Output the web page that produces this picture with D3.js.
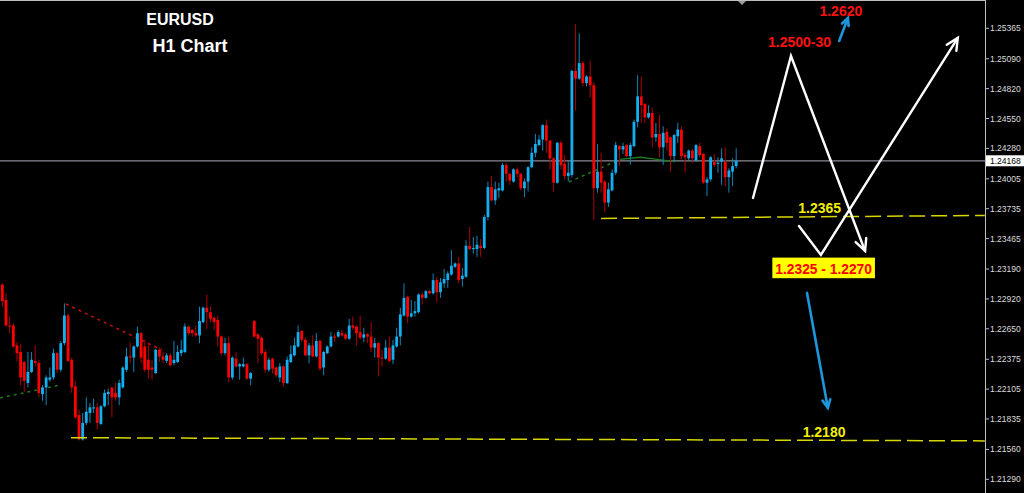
<!DOCTYPE html>
<html><head><meta charset="utf-8">
<script src="https://cdn.jsdelivr.net/npm/d3@7"></script>
<style>html,body{margin:0;padding:0;background:#000;overflow:hidden}</style>
</head><body><svg id="c" width="1024" height="493"></svg>
<script>
// ---- data (EURUSD H1 candles, oldest -> newest) ----
const opens = [1.2305,1.2291,1.2268,1.2268,1.2250,1.2244,1.2235,1.2216,1.2226,1.2236,1.2234,1.2206,1.2212,1.2219,1.2221,1.2243,1.2228,1.2252,1.2277,1.2237,
1.2213,1.2187,1.2165,1.2180,1.2189,1.2193,1.2194,1.2179,1.2195,1.2206,1.2212,1.2207,1.2203,1.2212,1.2228,1.2240,1.2239,1.2249,1.2261,1.2249,
1.2237,1.2230,1.2225,1.2246,1.2240,1.2236,1.2241,1.2234,1.2235,1.2243,1.2244,1.2267,1.2264,1.2261,1.2259,1.2271,1.2284,1.2280,1.2275,1.2273,
1.2258,1.2243,1.2252,1.2221,1.2238,1.2231,1.2231,1.2233,1.2220,1.2272,1.2260,1.2257,1.2244,1.2228,1.2238,1.2230,1.2221,1.2231,1.2216,1.2235,
1.2241,1.2249,1.2263,1.2255,1.2241,1.2250,1.2240,1.2254,1.2230,1.2243,1.2249,1.2258,1.2258,1.2261,1.2260,1.2256,1.2268,1.2267,1.2262,1.2257,
1.2260,1.2258,1.2248,1.2252,1.2239,1.2238,1.2248,1.2237,1.2249,1.2258,1.2277,1.2294,1.2276,1.2279,1.2280,1.2296,1.2293,1.2299,1.2297,1.2309,
1.2298,1.2306,1.2309,1.2314,1.2321,1.2324,1.2310,1.2312,1.2340,1.2337,1.2337,1.2340,1.2338,1.2366,1.2393,1.2381,1.2390,1.2390,1.2413,1.2405,
1.2398,1.2409,1.2405,1.2392,1.2398,1.2411,1.2424,1.2431,1.2436,1.2449,1.2435,1.2419,1.2397,1.2433,1.2414,1.2403,1.2404,1.2498,1.2491,1.2505,
1.2487,1.2493,1.2485,1.2392,1.2407,1.2398,1.2379,1.2390,1.2406,1.2430,1.2427,1.2431,1.2421,1.2430,1.2452,1.2475,1.2468,1.2456,1.2460,1.2438,
1.2441,1.2429,1.2443,1.2438,1.2421,1.2439,1.2445,1.2422,1.2419,1.2426,1.2417,1.2430,1.2423,1.2397,1.2400,1.2416,1.2414,1.2416,1.2416,1.2402,
1.2407,1.2412];
const highs = [1.2306,1.2297,1.2276,1.2270,1.2253,1.2251,1.2236,1.2244,1.2244,1.2250,1.2237,1.2214,1.2223,1.2230,1.2247,1.2244,1.2254,1.2288,1.2279,1.2239,
1.2218,1.2192,1.2189,1.2203,1.2198,1.2202,1.2198,1.2196,1.2210,1.2211,1.2212,1.2216,1.2219,1.2231,1.2248,1.2253,1.2250,1.2267,1.2262,1.2255,
1.2252,1.2237,1.2247,1.2248,1.2244,1.2243,1.2243,1.2254,1.2250,1.2255,1.2270,1.2268,1.2265,1.2268,1.2285,1.2285,1.2296,1.2285,1.2276,1.2277,
1.2259,1.2257,1.2258,1.2240,1.2244,1.2234,1.2239,1.2234,1.2226,1.2273,1.2261,1.2258,1.2246,1.2239,1.2239,1.2231,1.2234,1.2232,1.2240,1.2250,
1.2257,1.2268,1.2264,1.2257,1.2252,1.2259,1.2261,1.2255,1.2245,1.2250,1.2262,1.2261,1.2264,1.2264,1.2261,1.2274,1.2276,1.2268,1.2277,1.2266,
1.2261,1.2271,1.2257,1.2253,1.2246,1.2255,1.2258,1.2255,1.2266,1.2284,1.2306,1.2295,1.2291,1.2290,1.2297,1.2298,1.2300,1.2300,1.2315,1.2312,
1.2311,1.2319,1.2317,1.2336,1.2325,1.2330,1.2320,1.2345,1.2357,1.2348,1.2349,1.2346,1.2368,1.2398,1.2403,1.2398,1.2397,1.2415,1.2415,1.2406,
1.2410,1.2411,1.2406,1.2401,1.2412,1.2429,1.2441,1.2440,1.2450,1.2454,1.2436,1.2420,1.2434,1.2435,1.2422,1.2416,1.2499,1.2540,1.2532,1.2507,
1.2494,1.2507,1.2488,1.2432,1.2424,1.2399,1.2397,1.2409,1.2434,1.2431,1.2433,1.2432,1.2433,1.2454,1.2494,1.2493,1.2469,1.2467,1.2465,1.2451,
1.2458,1.2448,1.2446,1.2439,1.2441,1.2451,1.2448,1.2424,1.2427,1.2428,1.2432,1.2433,1.2424,1.2402,1.2421,1.2423,1.2420,1.2428,1.2429,1.2410,
1.2419,1.2428];
const lows = [1.2285,1.2267,1.2261,1.2248,1.2236,1.2214,1.2208,1.2212,1.2225,1.2231,1.2203,1.2200,1.2196,1.2217,1.2219,1.2225,1.2226,1.2250,1.2235,1.2207,
1.2184,1.2164,1.2164,1.2178,1.2180,1.2189,1.2174,1.2178,1.2194,1.2196,1.2185,1.2200,1.2196,1.2211,1.2226,1.2234,1.2226,1.2248,1.2234,1.2226,
1.2220,1.2219,1.2224,1.2235,1.2234,1.2234,1.2231,1.2232,1.2234,1.2240,1.2243,1.2259,1.2258,1.2258,1.2252,1.2270,1.2265,1.2271,1.2264,1.2249,
1.2241,1.2241,1.2217,1.2219,1.2230,1.2219,1.2230,1.2219,1.2214,1.2257,1.2234,1.2241,1.2225,1.2226,1.2225,1.2221,1.2217,1.2213,1.2215,1.2234,
1.2240,1.2248,1.2253,1.2240,1.2234,1.2239,1.2239,1.2227,1.2223,1.2242,1.2248,1.2253,1.2257,1.2258,1.2255,1.2255,1.2264,1.2250,1.2255,1.2253,
1.2252,1.2244,1.2239,1.2222,1.2231,1.2237,1.2235,1.2233,1.2248,1.2250,1.2276,1.2270,1.2275,1.2276,1.2279,1.2287,1.2292,1.2296,1.2296,1.2289,
1.2293,1.2302,1.2302,1.2313,1.2320,1.2306,1.2303,1.2311,1.2336,1.2333,1.2330,1.2330,1.2337,1.2363,1.2380,1.2377,1.2383,1.2389,1.2398,1.2395,
1.2397,1.2402,1.2390,1.2384,1.2389,1.2410,1.2420,1.2430,1.2426,1.2424,1.2409,1.2389,1.2396,1.2409,1.2400,1.2398,1.2402,1.2462,1.2490,1.2484,
1.2484,1.2474,1.2363,1.2388,1.2388,1.2370,1.2375,1.2389,1.2404,1.2412,1.2423,1.2420,1.2413,1.2429,1.2447,1.2451,1.2451,1.2455,1.2429,1.2434,
1.2420,1.2413,1.2426,1.2407,1.2416,1.2433,1.2418,1.2406,1.2417,1.2415,1.2416,1.2420,1.2396,1.2385,1.2398,1.2411,1.2406,1.2395,1.2394,1.2388,
1.2394,1.2410];
const closes = [1.2290,1.2268,1.2267,1.2249,1.2243,1.2221,1.2218,1.2226,1.2237,1.2234,1.2207,1.2212,1.2221,1.2221,1.2243,1.2228,1.2252,1.2277,1.2236,1.2212,
1.2185,1.2165,1.2180,1.2190,1.2194,1.2194,1.2180,1.2195,1.2207,1.2208,1.2203,1.2203,1.2216,1.2230,1.2240,1.2239,1.2249,1.2261,1.2239,1.2228,
1.2228,1.2228,1.2246,1.2240,1.2237,1.2241,1.2232,1.2237,1.2244,1.2246,1.2267,1.2261,1.2261,1.2259,1.2272,1.2284,1.2280,1.2274,1.2271,1.2258,
1.2243,1.2252,1.2221,1.2239,1.2231,1.2233,1.2233,1.2220,1.2225,1.2258,1.2256,1.2243,1.2228,1.2237,1.2229,1.2223,1.2231,1.2216,1.2237,1.2242,
1.2250,1.2262,1.2255,1.2241,1.2250,1.2240,1.2254,1.2229,1.2244,1.2249,1.2258,1.2257,1.2262,1.2259,1.2256,1.2268,1.2266,1.2261,1.2257,1.2260,
1.2258,1.2248,1.2252,1.2239,1.2238,1.2248,1.2236,1.2250,1.2258,1.2278,1.2293,1.2276,1.2279,1.2281,1.2296,1.2293,1.2299,1.2297,1.2309,1.2298,
1.2307,1.2310,1.2315,1.2322,1.2324,1.2309,1.2313,1.2340,1.2337,1.2338,1.2341,1.2338,1.2366,1.2393,1.2381,1.2391,1.2392,1.2413,1.2405,1.2399,
1.2409,1.2405,1.2392,1.2398,1.2411,1.2424,1.2432,1.2436,1.2449,1.2435,1.2419,1.2397,1.2433,1.2413,1.2403,1.2406,1.2498,1.2491,1.2505,1.2487,
1.2493,1.2485,1.2392,1.2407,1.2397,1.2379,1.2391,1.2406,1.2431,1.2427,1.2430,1.2421,1.2431,1.2452,1.2475,1.2467,1.2456,1.2460,1.2438,1.2441,
1.2429,1.2442,1.2433,1.2421,1.2440,1.2445,1.2421,1.2420,1.2426,1.2419,1.2431,1.2422,1.2397,1.2400,1.2420,1.2413,1.2415,1.2419,1.2402,1.2408,
1.2412,1.24168];

const yTickValues = [1.25365,1.25090,1.24820,1.24550,1.24280,1.24005,1.23735,1.23465,1.23190,1.22920,1.22650,1.22375,1.22105,1.21835,1.21560,1.21290];
const lastPrice = 1.24168;

// annotation anchors: [bar index, price]
const zigzagA = [[205.6,1.23832],[216.0,1.25115],[236.3,1.23353]];
const zigzagB = [[218.2,1.23579],[224.2,1.23317],[261.7,1.25278]];
const blueUp = [[229.2,1.25251],[231.6,1.25458]];
const blueDown = [[220.4,1.22974],[226.1,1.21935]];
const levelUpper = [[164.0,1.23647],[269.1,1.23674]];
const levelLower = [[18.8,1.21666],[269.1,1.21637]];
const redTrend = [[17.4,1.22874],[43.7,1.22459]];
const greenTrendA = [[-0.64,1.22025],[15.8,1.22142]];
const greenTrendB = [[155.2,1.23977],[169.2,1.24180]];
const greenLineB = [[169.2,1.24180],[174.7,1.24200],[178.8,1.24182],[184.2,1.24160]];
const labelTexts = ["1.2620","1.2500-30","1.2365","1.2180"];
const labelAnchors = [[223.8,1.25479],[209.7,1.25199],[218.0,1.23699],[219.2,1.21675]];
const boxText = "1.2325 - 1.2270";
const boxAnchors = [[210.9,1.23293],[239.0,1.23107]];
const titleLines = ["EURUSD","H1 Chart"];

// ---- drawing ----
const W = 1024, H = 493, plotR = 985;
const svg = d3.select("#c");
svg.append("rect").attr("width",W).attr("height",H).attr("fill","#000");

const x = d3.scaleLinear().domain([0, 201]).range([2.35, 736.2]);
const y = d3.scaleLinear().domain([1.21290, 1.25365]).range([479.3, 28.3]);

svg.append("defs").append("clipPath").attr("id","plot")
  .append("rect").attr("x",0).attr("y",0).attr("width",plotR).attr("height",H);
const g = svg.append("g").attr("clip-path","url(#plot)");

// price line
g.append("line").attr("x1",0).attr("x2",plotR)
  .attr("y1",y(lastPrice)).attr("y2",y(lastPrice))
  .attr("stroke","#8a8a92").attr("stroke-width",1.2);

const line = d3.line().x(d=>x(d[0])).y(d=>y(d[1]));

// trend lines
g.append("path").attr("d",line(greenTrendA)).attr("fill","none")
  .attr("stroke","#1f7a1f").attr("stroke-width",1.5).attr("stroke-dasharray","3,4");
g.append("path").attr("d",line(greenTrendB)).attr("fill","none")
  .attr("stroke","#1f7a1f").attr("stroke-width",1.5).attr("stroke-dasharray","3,4");
g.append("path").attr("d",line(greenLineB)).attr("fill","none")
  .attr("stroke","#1f7a1f").attr("stroke-width",1.3);
g.append("path").attr("d",line(redTrend)).attr("fill","none")
  .attr("stroke","#cc1010").attr("stroke-width",1.5).attr("stroke-dasharray","3,4");

// candles
const idx = d3.range(opens.length);
const blue = "#12b0f0", red = "#ff0000";
const col = i => closes[i] >= opens[i] ? blue : red;
const wickCol = i => closes[i] >= opens[i] ? "#0e86b8" : "#b00000";
g.append("g").selectAll("line").data(idx).join("line")
  .attr("x1",i=>x(i)).attr("x2",i=>x(i))
  .attr("y1",i=>y(highs[i])).attr("y2",i=>y(lows[i]))
  .attr("stroke",wickCol).attr("stroke-width",1);
g.append("g").selectAll("rect").data(idx).join("rect")
  .attr("x",i=>x(i)-1.4).attr("width",2.8)
  .attr("y",i=>y(Math.max(opens[i],closes[i])))
  .attr("height",i=>Math.max(1, Math.abs(y(opens[i])-y(closes[i]))))
  .attr("fill",col);

// level dashed lines
[levelUpper, levelLower].forEach(l=>{
  g.append("path").attr("d",line(l)).attr("fill","none")
    .attr("stroke","#d6d600").attr("stroke-width",1.5).attr("stroke-dasharray","16,6");
});

// arrows
function arrow(pts, color, w, head){
  g.append("path").attr("d",line(pts)).attr("fill","none")
    .attr("stroke",color).attr("stroke-width",w).attr("stroke-linejoin","miter")
    .attr("stroke-linecap","round");
  const n = pts.length;
  const x1 = x(pts[n-2][0]), y1 = y(pts[n-2][1]);
  const x2 = x(pts[n-1][0]), y2 = y(pts[n-1][1]);
  const a = Math.atan2(y2-y1, x2-x1);
  const s = 0.45;
  const p1 = [x2 - head*Math.cos(a-s), y2 - head*Math.sin(a-s)];
  const p2 = [x2 - head*Math.cos(a+s), y2 - head*Math.sin(a+s)];
  g.append("path").attr("d",`M${p1[0]},${p1[1]}L${x2},${y2}L${p2[0]},${p2[1]}`)
    .attr("fill","none").attr("stroke",color).attr("stroke-width",w)
    .attr("stroke-linecap","round").attr("stroke-linejoin","miter");
}
arrow(zigzagA, "#ffffff", 2.4, 13);
arrow(zigzagB, "#ffffff", 2.4, 13);
arrow(blueUp, "#1e96dc", 2.6, 8);
arrow(blueDown, "#1e96dc", 2.6, 9);

// labels
const labelColors = ["#ff1010","#ff1010","#f0f000","#f0f000"];
labelTexts.forEach((t,k)=>{
  g.append("text").attr("x",x(labelAnchors[k][0])).attr("y",y(labelAnchors[k][1]))
    .attr("fill",labelColors[k]).attr("font-family","Liberation Sans, Arial, sans-serif")
    .attr("font-weight","bold").attr("font-size",14).text(t);
});
const bx0 = x(boxAnchors[0][0]), by0 = y(boxAnchors[0][1]);
const bx1 = x(boxAnchors[1][0]), by1 = y(boxAnchors[1][1]);
g.append("rect").attr("x",bx0).attr("y",by0).attr("width",bx1-bx0).attr("height",by1-by0).attr("fill","#ffff00");
g.append("text").attr("x",bx0+3).attr("y",by1-4.5)
  .attr("textLength",bx1-bx0-6).attr("lengthAdjust","spacingAndGlyphs")
  .attr("fill","#ff0000").attr("font-family","Liberation Sans, Arial, sans-serif")
  .attr("font-weight","bold").attr("font-size",15).text(boxText);

// title
svg.append("text").attr("x",180).attr("y",25).attr("text-anchor","middle")
  .attr("fill","#fff").attr("font-family","Liberation Sans, Arial, sans-serif")
  .attr("font-weight","bold").attr("font-size",16).text(titleLines[0]);
svg.append("text").attr("x",190).attr("y",52).attr("text-anchor","middle")
  .attr("fill","#fff").attr("font-family","Liberation Sans, Arial, sans-serif")
  .attr("font-weight","bold").attr("font-size",18).text(titleLines[1]);

// shift marker
svg.append("path").attr("d","M737,0L747,0L742,5Z").attr("fill","#9a9a9a");

// top border
svg.append("line").attr("x1",0).attr("x2",plotR).attr("y1",0.5).attr("y2",0.5)
  .attr("stroke","#bdbdbd").attr("stroke-width",1);

// y axis
svg.append("line").attr("x1",plotR+0.5).attr("x2",plotR+0.5).attr("y1",0).attr("y2",H)
  .attr("stroke","#bdbdbd").attr("stroke-width",1);
const ax = svg.append("g");
yTickValues.forEach(v=>{
  ax.append("line").attr("x1",plotR+1).attr("x2",plotR+4).attr("y1",y(v)).attr("y2",y(v))
    .attr("stroke","#bdbdbd");
  ax.append("text").attr("x",plotR+5).attr("y",y(v)+3)
    .attr("fill","#dcdcdc").attr("font-family","Liberation Sans, Arial, sans-serif")
    .attr("font-size",8.5).text(d3.format(".5f")(v));
});
// current price tag
svg.append("rect").attr("x",plotR+1).attr("y",y(lastPrice)-5.5).attr("width",W-plotR-1).attr("height",11)
  .attr("fill","#fff");
svg.append("text").attr("x",plotR+5).attr("y",y(lastPrice)+3)
  .attr("fill","#000").attr("font-family","Liberation Sans, Arial, sans-serif")
  .attr("font-size",8.5).text(d3.format(".5f")(lastPrice));
</script></body></html>
